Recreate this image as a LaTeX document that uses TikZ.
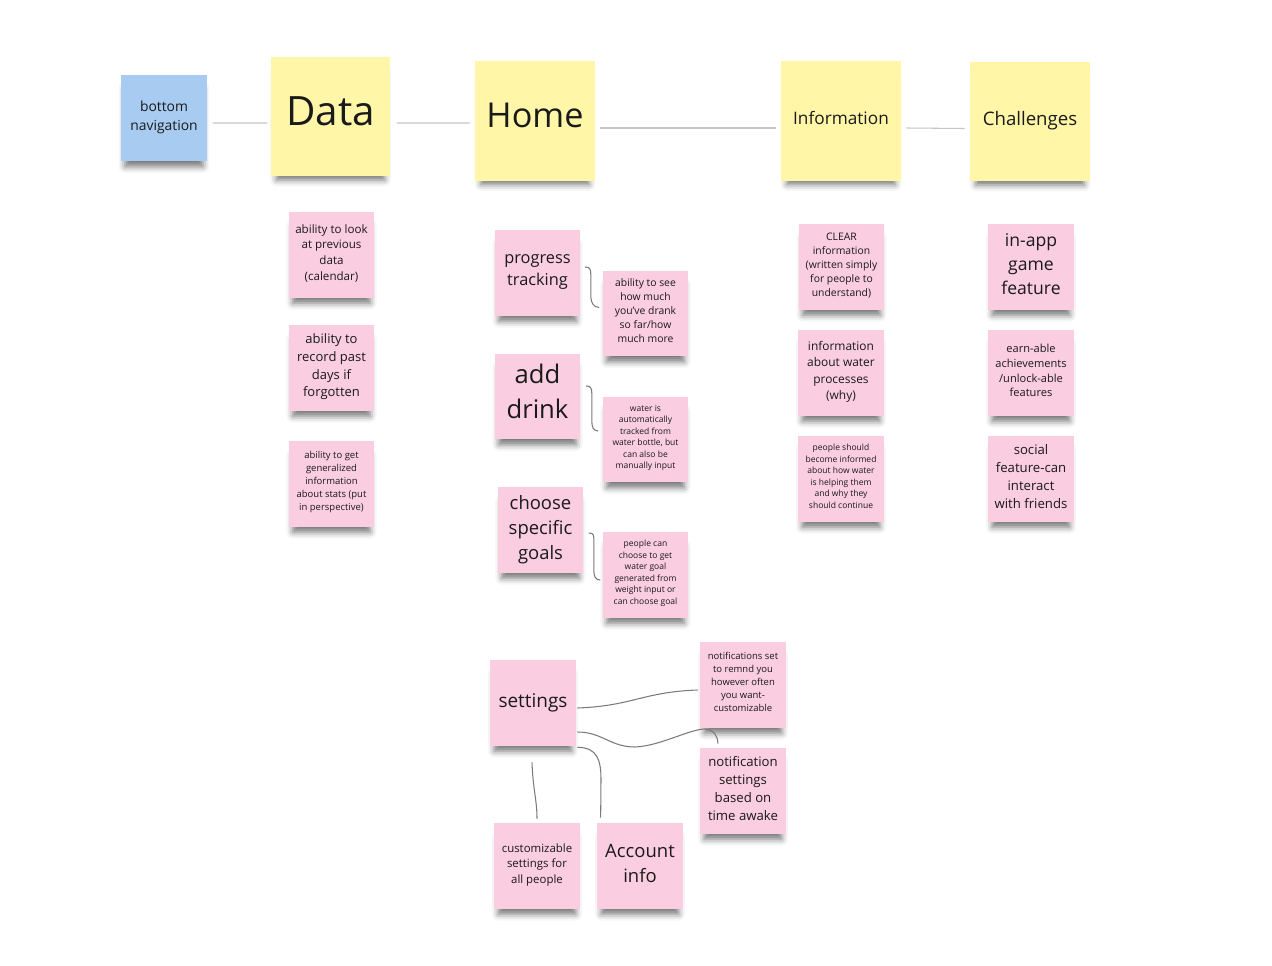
\documentclass[tikz,border=0pt]{standalone}
\usepackage{fontspec}
\setmainfont{Open Sans}
\usetikzlibrary{shadows.blur}
\definecolor{stickyyellow}{HTML}{FFF6A8}
\definecolor{stickypink}{HTML}{FACDE0}
\definecolor{stickyblue}{HTML}{A8CBF2}
\definecolor{ink}{HTML}{1A1A1A}
\definecolor{linegray}{HTML}{C4C4C4}
\definecolor{curvegray}{HTML}{7A7A7A}

\begin{document}
\begin{tikzpicture}[
                  x = 0.02cm,
                  y = -0.02cm,
        note/.style = {align=center, text=ink, inner sep=2pt, text depth=3pt,
                       blur shadow={shadow xshift=0pt, shadow yshift=-6pt,
                                    shadow scale=0.9, shadow opacity=55,
                                    shadow blur radius=4pt}},
      raised/.style = {text depth=6pt},
  yellownote/.style = {note, fill=stickyyellow, minimum size=2.4cm},
    pinknote/.style = {note, fill=stickypink, minimum size=1.72cm},
    bluenote/.style = {note, fill=stickyblue, minimum size=1.74cm},
    headline/.style = {draw=linegray, line width=0.6pt},
        link/.style = {draw=curvegray, line width=0.6pt},
                   ]
\useasboundingbox (0,0) rectangle (1272,966);

% top row
\node[bluenote, font=\fontsize{7.9}{10.8}\selectfont] (nav) at (164,118) {bottom\\navigation};
\node[yellownote, raised, font=\fontsize{23}{30}\selectfont] (data) at (330.5,116.5) {Data};
\node[yellownote, raised, font=\fontsize{19.5}{26}\selectfont] (home) at (535,121) {Home};
\node[yellownote, font=\fontsize{9.8}{13}\selectfont] (info) at (841,121) {Information};
\node[yellownote, font=\fontsize{10.6}{14}\selectfont] (chal) at (1030,121.5) {Challenges};

\draw[headline] ([shift={(5,5)}]nav.east) -- ([shift={(-3,6.5)}]data.west);
\draw[headline] ([shift={(6,6.5)}]data.east) -- ([shift={(-5,2)}]home.west);
\draw[headline] ([shift={(5,7)}]home.east) -- ([shift={(-5,7)}]info.west);
\draw[headline] ([shift={(5,7)}]info.east) -- ([shift={(-5,7)}]chal.west);

% data
\node[pinknote, font=\fontsize{6.6}{8.9}\selectfont] (d1) at (331.5,255) {ability to look\\at previous\\data\\(calendar)};
\node[pinknote, font=\fontsize{7.4}{10.1}\selectfont] (d2) at (331.5,368) {ability to\\record past\\days if\\forgotten};
\node[pinknote, font=\fontsize{5.4}{7.4}\selectfont] (d3) at (331.5,484) {ability to get\\generalized\\information\\about stats (put\\in perspective)};

% home
\node[pinknote, font=\fontsize{9.3}{12.5}\selectfont] (track) at (537.5,273) {progress\\tracking};
\node[pinknote, font=\fontsize{5.9}{8}\selectfont] (tracknote) at (645.5,313.5) {ability to see\\how much\\you've drank\\so far/how\\much more};
\node[pinknote, raised, font=\fontsize{14.6}{19.9}\selectfont] (drink) at (537.5,396.5) {add\\drink};
\node[pinknote, font=\fontsize{4.85}{6.6}\selectfont] (drinknote) at (645.5,439.5) {water is\\automatically\\tracked from\\water bottle, but\\can also be\\manually input};
\node[pinknote, font=\fontsize{10.5}{14.2}\selectfont] (goals) at (540.5,530) {choose\\specific\\goals};
\node[pinknote, font=\fontsize{4.85}{6.6}\selectfont] (goalsnote) at (645.5,575) {people can\\choose to get\\water goal\\generated from\\weight input or\\can choose goal};

\draw[link] ([shift={(4,-6)}]track.east) .. controls +(5,0) and +(0,-6) .. ++(6,8)
    -- ++(0,22) .. controls +(0,6) and +(-5,0) .. ([shift={(-3,-6)}]tracknote.west);
\draw[link] ([shift={(5,-10.5)}]drink.east) .. controls +(5,0) and +(0,-6) .. ++(6,8)
    -- ++(0,27) .. controls +(0,6) and +(-5,0) .. ([shift={(-4,-8.5)}]drinknote.west);
\draw[link] ([shift={(5,3)}]goals.east) .. controls +(5,0) and +(0,-6) .. ++(5,8)
    -- ++(0,29) .. controls +(0,6) and +(-5,0) .. ([shift={(-2,5)}]goalsnote.west);

% settings
\node[pinknote, font=\fontsize{10.8}{14}\selectfont] (set) at (533,703) {settings};
\node[pinknote, font=\fontsize{5.4}{7.4}\selectfont] (remind) at (743,685) {notifications set\\to remnd you\\however often\\you want-\\customizable};
\node[pinknote, font=\fontsize{7.5}{10.2}\selectfont] (awake) at (743,791) {notification\\settings\\based on\\time awake};
\node[pinknote, font=\fontsize{6.5}{8.8}\selectfont] (cust) at (537,866) {customizable\\settings for\\all people};
\node[pinknote, font=\fontsize{10.5}{14.2}\selectfont] (acct) at (640,866) {Account\\info};

\draw[link] ([shift={(1,5)}]set.east) .. controls +(55,-2) and +(-55,2) .. ([shift={(-2,5)}]remind.west);
\draw[link] ([shift={(1,29)}]set.east) .. controls +(25,0) and +(-25,0) .. (635,747)
    .. controls +(25,-1) and +(-15,0) .. (705,729)
    .. controls +(10,1) and +(0,-6) .. ([shift={(-25,-4)}]awake.north);
\draw[link] ([shift={(1,1)}]set.south east) .. controls +(20,0) and +(0,-20) .. (601,780)
    -- ([shift={(4,-5)}]acct.north west);
\draw[link] ([shift={(-1,16)}]set.south) .. controls +(1,28) and +(0,-19) .. ([shift={(0,-4)}]cust.north);

% information
\node[pinknote, font=\fontsize{5.9}{8}\selectfont] (i1) at (841.5,267) {CLEAR\\information\\(written simply\\for people to\\understand)};
\node[pinknote, font=\fontsize{6.8}{9.3}\selectfont] (i2) at (841,373) {information\\about water\\processes\\(why)};
\node[pinknote, font=\fontsize{4.85}{6.6}\selectfont] (i3) at (841,479) {people should\\become informed\\about how water\\is helping them\\and why they\\should continue};

% challenges
\node[pinknote, font=\fontsize{10}{13.6}\selectfont] (c1) at (1031,267) {in-app\\game\\feature};
\node[pinknote, font=\fontsize{6.3}{8.5}\selectfont] (c2) at (1031,373) {earn-able\\achievements\\/unlock-able\\features};
\node[pinknote, font=\fontsize{7.5}{10.2}\selectfont] (c3) at (1031,479) {social\\feature-can\\interact\\with friends};
\end{tikzpicture}
\end{document}
